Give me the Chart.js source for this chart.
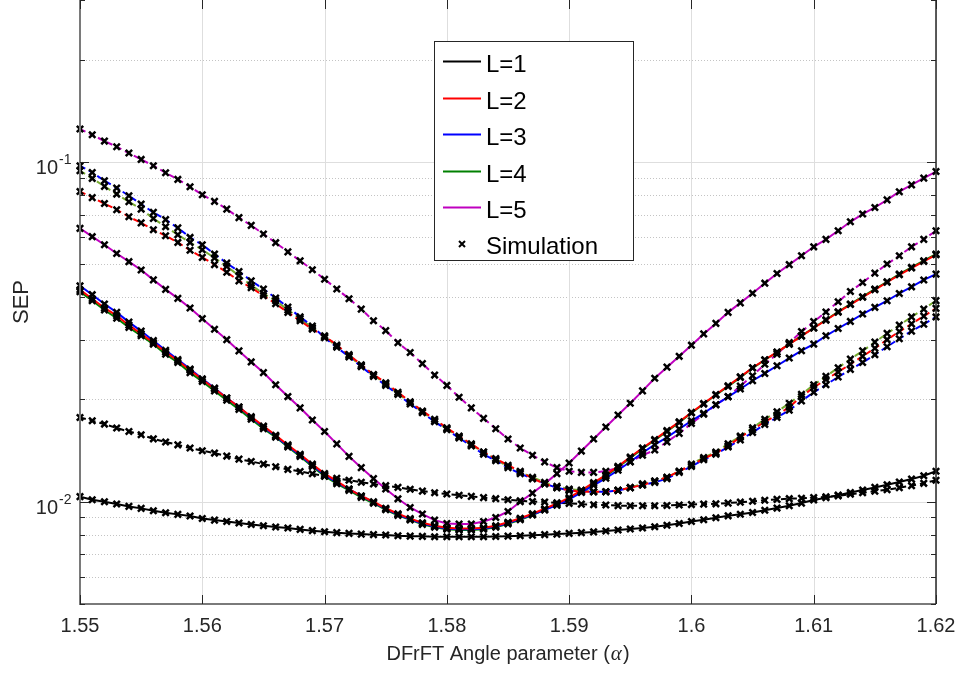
<!DOCTYPE html>
<html>
<head>
<meta charset="utf-8">
<script src="https://cdn.jsdelivr.net/npm/chart.js@4.4.0/dist/chart.umd.min.js"></script>
<style>
  html, body { margin: 0; padding: 0; background: #fff; }
  #wrap { width: 960px; height: 675px; position: relative; }
</style>
</head>
<body>
<div id="wrap"><canvas id="sepChart"></canvas></div>
<script>
// x axis: DFrFT angle parameter
const alpha = [
  1.550, 1.551, 1.552, 1.553, 1.554, 1.555, 1.556, 1.557, 1.558, 1.559,
  1.560, 1.561, 1.562, 1.563, 1.564, 1.565, 1.566, 1.567, 1.568, 1.569,
  1.570, 1.571, 1.572, 1.573, 1.574, 1.575, 1.576, 1.577, 1.578, 1.579,
  1.580, 1.581, 1.582, 1.583, 1.584, 1.585, 1.586, 1.587, 1.588, 1.589,
  1.590, 1.591, 1.592, 1.593, 1.594, 1.595, 1.596, 1.597, 1.598, 1.599,
  1.600, 1.601, 1.602, 1.603, 1.604, 1.605, 1.606, 1.607, 1.608, 1.609,
  1.610, 1.611, 1.612, 1.613, 1.614, 1.615, 1.616, 1.617, 1.618, 1.619,
  1.620
];

// solid curves
const solidL1 = [
  0.01035, 0.01014, 0.01000, 0.00985, 0.00969, 0.00956, 0.00941, 0.00928, 0.00918, 0.00908,
  0.00893, 0.00883, 0.00875, 0.00866, 0.00857, 0.00850, 0.00843, 0.00837, 0.00829, 0.00822,
  0.00816, 0.00811, 0.00807, 0.00803, 0.00800, 0.00798, 0.00794, 0.00792, 0.00791, 0.00789,
  0.00789, 0.00789, 0.00789, 0.00789, 0.00790, 0.00792, 0.00794, 0.00797, 0.00800, 0.00803,
  0.00807, 0.00811, 0.00815, 0.00820, 0.00826, 0.00831, 0.00837, 0.00844, 0.00853, 0.00863,
  0.00875, 0.00885, 0.00897, 0.00909, 0.00919, 0.00930, 0.00944, 0.00958, 0.00973, 0.00991,
  0.01012, 0.01028, 0.01046, 0.01065, 0.01083, 0.01102, 0.01122, 0.01143, 0.01166, 0.01193,
  0.01230
];
const solidL2 = [
  0.0421, 0.0396, 0.0372, 0.0353, 0.0331, 0.0312, 0.0294, 0.0276, 0.0260, 0.0244,
  0.0229, 0.0215, 0.0202, 0.0190, 0.0178, 0.0167, 0.0157, 0.0147, 0.0138, 0.0129,
  0.0121, 0.0115, 0.0109, 0.0104, 0.0100, 0.00957, 0.00922, 0.00892, 0.00867, 0.00850,
  0.00838, 0.00834, 0.00834, 0.00838, 0.00850, 0.00870, 0.00894, 0.00922, 0.00954, 0.00988,
  0.01028, 0.01081, 0.01138, 0.01199, 0.01271, 0.01354, 0.01440, 0.01525, 0.01619, 0.01720,
  0.01832, 0.01947, 0.02069, 0.02196, 0.02331, 0.02480, 0.02619, 0.02759, 0.02912, 0.03074,
  0.03247, 0.03423, 0.03613, 0.03807, 0.04000, 0.04207, 0.04428, 0.04657, 0.04876, 0.05100,
  0.05335
];
const solidL3 = [
  0.0432, 0.0407, 0.0382, 0.0361, 0.0338, 0.0318, 0.0298, 0.0279, 0.0262, 0.0246,
  0.0230, 0.0216, 0.0202, 0.0190, 0.0177, 0.0166, 0.0156, 0.0146, 0.0137, 0.0128,
  0.0120, 0.0114, 0.0109, 0.0104, 0.00995, 0.00953, 0.00917, 0.00888, 0.00863, 0.00846,
  0.00834, 0.00830, 0.00830, 0.00834, 0.00846, 0.00865, 0.00890, 0.00917, 0.00947, 0.00977,
  0.01017, 0.01065, 0.01118, 0.01173, 0.01238, 0.01311, 0.01394, 0.01472, 0.01547, 0.01637,
  0.01731, 0.01820, 0.01930, 0.02037, 0.02147, 0.02271, 0.02386, 0.02514, 0.02649, 0.02784,
  0.02912, 0.03080, 0.03236, 0.03395, 0.03570, 0.03736, 0.03906, 0.04104, 0.04293, 0.04497,
  0.04680
];
const solidL4 = [
  0.0415, 0.0391, 0.0367, 0.0347, 0.0326, 0.0308, 0.0291, 0.0272, 0.0257, 0.0240,
  0.0226, 0.0212, 0.0199, 0.0187, 0.0175, 0.0164, 0.0155, 0.0145, 0.0136, 0.0127,
  0.0119, 0.0113, 0.0108, 0.0103, 0.00990, 0.00947, 0.00912, 0.00884, 0.00858, 0.00841,
  0.00830, 0.00826, 0.00826, 0.00830, 0.00841, 0.00861, 0.00885, 0.00914, 0.00946, 0.00981,
  0.01022, 0.01075, 0.01131, 0.01190, 0.01264, 0.01345, 0.01433, 0.01517, 0.01611, 0.01712,
  0.01825, 0.01939, 0.02061, 0.02185, 0.02323, 0.02475, 0.02614, 0.02755, 0.02912, 0.03080,
  0.0325, 0.03434, 0.03626, 0.03820, 0.04014, 0.04228, 0.04442, 0.04680, 0.04896, 0.05124,
  0.05360
];
const solidL5 = [
  0.0638, 0.0603, 0.0571, 0.0538, 0.0509, 0.0481, 0.0450, 0.0422, 0.0397, 0.0372,
  0.0346, 0.0322, 0.0300, 0.0278, 0.0258, 0.0240, 0.0221, 0.0204, 0.0189, 0.0174,
  0.0161, 0.0148, 0.0136, 0.0126, 0.0117, 0.0109, 0.0102, 0.00962, 0.00920, 0.00883,
  0.00863, 0.00860, 0.00860, 0.00875, 0.00899, 0.00936, 0.0100, 0.0106, 0.0113, 0.0121,
  0.0130, 0.0141, 0.0153, 0.0166, 0.0180, 0.0195, 0.0212, 0.0231, 0.0249, 0.0268,
  0.0289, 0.0312, 0.0335, 0.0361, 0.0385, 0.0411, 0.0440, 0.0470, 0.0499, 0.0530,
  0.0563, 0.0592, 0.0628, 0.0667, 0.0703, 0.0735, 0.0774, 0.0818, 0.0857, 0.0897,
  0.0938
];

// dashed curves
const dashedL1 = [
  0.01770, 0.01731, 0.01693, 0.01648, 0.01610, 0.01575, 0.01532, 0.01499, 0.01471, 0.01439,
  0.01413, 0.01391, 0.01363, 0.01335, 0.01314, 0.01291, 0.01268, 0.01245, 0.01228, 0.01209,
  0.01190, 0.01173, 0.01157, 0.01141, 0.01128, 0.01115, 0.01102, 0.01088, 0.01075, 0.01063,
  0.01054, 0.01045, 0.01037, 0.01028, 0.01021, 0.01014, 0.01007, 0.01002, 0.00998, 0.00993,
  0.00989, 0.00984, 0.00980, 0.00978, 0.00974, 0.00973, 0.00973, 0.00973, 0.00975, 0.00978,
  0.00981, 0.00984, 0.00986, 0.00991, 0.00997, 0.01003, 0.01010, 0.01016, 0.01021, 0.01024,
  0.01028, 0.01034, 0.01041, 0.01052, 0.01063, 0.01074, 0.01085, 0.01100, 0.01115, 0.01133,
  0.01157
];
const dashedL2 = [
  0.0819, 0.0786, 0.0755, 0.0724, 0.0690, 0.0662, 0.0632, 0.0607, 0.0580, 0.0550,
  0.0524, 0.0499, 0.0474, 0.0447, 0.0427, 0.0404, 0.0383, 0.0361, 0.0341, 0.0322,
  0.0308, 0.0289, 0.0271, 0.0253, 0.0237, 0.0224, 0.0210, 0.0197, 0.0185, 0.0175,
  0.0165, 0.0156, 0.0148, 0.0140, 0.0134, 0.0128, 0.0123, 0.0117, 0.0113, 0.0110,
  0.0108, 0.0107, 0.0107, 0.0107, 0.0108, 0.0110, 0.0112, 0.0115, 0.0118, 0.0123,
  0.0128, 0.0134, 0.0139, 0.0146, 0.0155, 0.0163, 0.0172, 0.0180, 0.0190, 0.0204,
  0.0217, 0.0229, 0.0241, 0.0254, 0.0268, 0.0283, 0.0300, 0.0317, 0.0334, 0.0352,
  0.0371
];
const dashedL3 = [
  0.0975, 0.0932, 0.0881, 0.0839, 0.0796, 0.0752, 0.0711, 0.0677, 0.0640, 0.0600,
  0.0571, 0.0536, 0.0504, 0.0476, 0.0447, 0.0423, 0.0398, 0.0374, 0.0350, 0.0329,
  0.0304, 0.0285, 0.0267, 0.0250, 0.0234, 0.0220, 0.0207, 0.0194, 0.0183, 0.0172,
  0.0163, 0.0154, 0.0146, 0.0138, 0.0132, 0.0126, 0.0121, 0.0117, 0.0113, 0.0110,
  0.0108, 0.0107, 0.0107, 0.0107, 0.0108, 0.0110, 0.0112, 0.0114, 0.0117, 0.0122,
  0.0127, 0.0133, 0.0138, 0.0145, 0.0152, 0.0160, 0.0169, 0.0177, 0.0186, 0.0198,
  0.0210, 0.0221, 0.0233, 0.0245, 0.0257, 0.0271, 0.0286, 0.0302, 0.0318, 0.0333,
  0.0350
];
const dashedL4 = [
  0.0943, 0.0895, 0.0848, 0.0805, 0.0764, 0.0727, 0.0682, 0.0645, 0.0611, 0.0580,
  0.0552, 0.0522, 0.0493, 0.0463, 0.0434, 0.0410, 0.0391, 0.0367, 0.0346, 0.0325,
  0.0306, 0.0287, 0.0269, 0.0251, 0.0236, 0.0222, 0.0208, 0.0196, 0.0184, 0.0173,
  0.0164, 0.0155, 0.0147, 0.0140, 0.0133, 0.0127, 0.0122, 0.0118, 0.0114, 0.0111,
  0.0109, 0.0108, 0.0107, 0.0107, 0.0108, 0.0110, 0.0113, 0.0115, 0.0118, 0.0123,
  0.0129, 0.0135, 0.0140, 0.0148, 0.0156, 0.0165, 0.0175, 0.0184, 0.0195, 0.0207,
  0.0221, 0.0234, 0.0248, 0.0263, 0.0278, 0.0295, 0.0313, 0.0331, 0.0350, 0.0369,
  0.0391
];
const dashedL5 = [
  0.1251, 0.1203, 0.1153, 0.1109, 0.1063, 0.1018, 0.0975, 0.0930, 0.0889, 0.0846,
  0.0801, 0.0766, 0.0727, 0.0686, 0.0651, 0.0614, 0.0579, 0.0544, 0.0512, 0.0482,
  0.0452, 0.0423, 0.0396, 0.0369, 0.0341, 0.0319, 0.0294, 0.0275, 0.0255, 0.0236,
  0.0220, 0.0203, 0.0189, 0.0176, 0.0164, 0.0153, 0.0144, 0.0137, 0.0131, 0.0126,
  0.0123, 0.0122, 0.0122, 0.0123, 0.0126, 0.0131, 0.0137, 0.0142, 0.0150, 0.0159,
  0.0170, 0.0181, 0.0193, 0.0204, 0.0219, 0.0235, 0.0254, 0.0272, 0.0294, 0.0317,
  0.0339, 0.0362, 0.0388, 0.0416, 0.0442, 0.0471, 0.0501, 0.0530, 0.0563, 0.0592,
  0.0628
];

const solidSeries = [solidL1, solidL2, solidL3, solidL4, solidL5];
const dashedSeries = [dashedL1, dashedL2, dashedL3, dashedL4, dashedL5];
const solidColors = ['#000000', '#ff0000', '#0000ff', '#008000', '#bf00bf'];
const dashedColors = ['#000000', '#ff0000', '#0000ff', '#77ac30', '#bf00bf'];

const legendLabels = ['L=1', 'L=2', 'L=3', 'L=4', 'L=5'];
const simLabel = 'Simulation';

// axis ticks
const xTicks = [1.55, 1.56, 1.57, 1.58, 1.59, 1.6, 1.61, 1.62];
const xTickLabels = ['1.55', '1.56', '1.57', '1.58', '1.59', '1.6', '1.61', '1.62'];
const yMajorTicks = [0.01, 0.1];
const yTickExp = ['-2', '-1'];
const yMinorTicks = [0.005, 0.006, 0.007, 0.008, 0.009, 0.02, 0.03, 0.04, 0.05,
                     0.06, 0.07, 0.08, 0.09, 0.2, 0.3];

function toPoints(ys) {
  return alpha.map((a, i) => ({ x: a, y: ys[i] }));
}

const datasets = [];
solidSeries.forEach((s, k) => {
  datasets.push({
    data: toPoints(s), borderColor: solidColors[k], borderWidth: 2,
    pointRadius: 0, tension: 0, order: 2
  });
});
dashedSeries.forEach((s, k) => {
  datasets.push({
    data: toPoints(s), borderColor: dashedColors[k], borderWidth: 2,
    borderDash: [6, 4], pointRadius: 0, tension: 0, order: 2
  });
});
// simulation markers on top
solidSeries.concat(dashedSeries).forEach(s => {
  datasets.push({
    data: toPoints(s), showLine: false, pointStyle: 'crossRot',
    pointRadius: 4.5, pointBorderWidth: 2.5, pointBorderColor: '#000',
    pointBackgroundColor: '#000', clip: false, order: 1
  });
});

const FONT = '"Liberation Sans", Arial, Helvetica, sans-serif';
const AX = '#262626';

function hline(ctx, x1, x2, y) { ctx.beginPath(); ctx.moveTo(x1, y); ctx.lineTo(x2, y); ctx.stroke(); }
function vline(ctx, x, y1, y2) { ctx.beginPath(); ctx.moveTo(x, y1); ctx.lineTo(x, y2); ctx.stroke(); }

const matlabAxes = {
  id: 'matlabAxes',
  beforeDatasetsDraw(chart) {
    const { ctx, chartArea: a, scales: { x, y } } = chart;
    ctx.save();
    // minor grid (dotted)
    ctx.strokeStyle = '#c4c4c4';
    ctx.lineWidth = 1;
    ctx.setLineDash([1, 2]);
    yMinorTicks.forEach(v => {
      const py = Math.round(y.getPixelForValue(v)) + 0.5;
      if (py > a.top + 1 && py < a.bottom - 1) hline(ctx, a.left, a.right, py);
    });
    ctx.setLineDash([]);
    // major grid
    ctx.strokeStyle = '#dedede';
    yMajorTicks.forEach(v => {
      const py = Math.round(y.getPixelForValue(v)) + 0.5;
      hline(ctx, a.left, a.right, py);
    });
    xTicks.forEach(v => {
      const px = Math.round(x.getPixelForValue(v)) + 0.5;
      vline(ctx, px, a.top, a.bottom);
    });
    ctx.restore();
  },
  afterDatasetsDraw(chart) {
    const { ctx, chartArea: a, scales: { x, y } } = chart;
    ctx.save();
    // box (top edge sits just outside the canvas)
    ctx.strokeStyle = '#7a7a7a';
    ctx.lineWidth = 2;
    vline(ctx, a.left, a.top, a.bottom + 1);
    hline(ctx, a.left - 1, a.right, a.bottom);
    ctx.strokeStyle = AX;
    ctx.lineWidth = 1.5;
    vline(ctx, a.right, a.top, a.bottom);

    // ticks (inside)
    ctx.lineWidth = 1;
    ctx.strokeStyle = AX;
    xTicks.forEach(v => {
      const px = Math.round(x.getPixelForValue(v)) + 0.5;
      vline(ctx, px, a.bottom, a.bottom - 9);
      vline(ctx, px, a.top, a.top + 9);
    });
    yMajorTicks.forEach(v => {
      const py = Math.round(y.getPixelForValue(v)) + 0.5;
      hline(ctx, a.left, a.left + 9, py);
      hline(ctx, a.right, a.right - 9, py);
    });
    yMinorTicks.forEach(v => {
      const py = Math.round(y.getPixelForValue(v)) + 0.5;
      hline(ctx, a.left, a.left + 5, py);
      hline(ctx, a.right, a.right - 5, py);
    });

    // tick labels
    ctx.fillStyle = AX;
    ctx.font = '20px ' + FONT;
    ctx.textAlign = 'center';
    ctx.textBaseline = 'alphabetic';
    xTicks.forEach((v, i) => {
      ctx.fillText(xTickLabels[i], x.getPixelForValue(v), a.bottom + 28);
    });
    yMajorTicks.forEach((v, i) => {
      const py = y.getPixelForValue(v);
      ctx.font = '20px ' + FONT;
      ctx.textAlign = 'right';
      ctx.fillText('10', 58, py + 12);
      ctx.font = '14px ' + FONT;
      ctx.textAlign = 'left';
      ctx.fillText(yTickExp[i], 59, py + 2);
    });

    // axis titles
    ctx.font = '20px ' + FONT;
    const t1 = 'DFrFT Angle parameter (';
    const t2 = '\u03b1';
    const t3 = ')';
    const w1 = ctx.measureText(t1).width;
    const w3 = ctx.measureText(t3).width;
    ctx.font = 'italic 21px "Liberation Serif", "DejaVu Serif", serif';
    const w2 = ctx.measureText(t2).width + 2;
    const cx = (a.left + a.right) / 2;
    const sx = cx - (w1 + w2 + w3) / 2;
    ctx.textAlign = 'left';
    ctx.font = '20px ' + FONT;
    ctx.fillText(t1, sx, 660);
    ctx.font = 'italic 21px "Liberation Serif", "DejaVu Serif", serif';
    ctx.fillText(t2, sx + w1 + 1, 660);
    ctx.font = '20px ' + FONT;
    ctx.fillText(t3, sx + w1 + w2, 660);

    ctx.save();
    ctx.translate(28, (a.top + a.bottom) / 2);
    ctx.rotate(-Math.PI / 2);
    ctx.textAlign = 'center';
    ctx.font = '22px ' + FONT;
    ctx.fillText('SEP', 0, 0);
    ctx.restore();
    ctx.restore();
  },
  afterDraw(chart) {
    const ctx = chart.ctx;
    ctx.save();
    const bx = 434.5, by = 41.5, bw = 199, bh = 219;
    ctx.fillStyle = '#fff';
    ctx.fillRect(bx, by, bw, bh);
    ctx.strokeStyle = AX;
    ctx.lineWidth = 1;
    ctx.strokeRect(bx, by, bw, bh);
    ctx.font = '24px ' + FONT;
    ctx.textAlign = 'left';
    ctx.textBaseline = 'alphabetic';
    ctx.fillStyle = '#000';
    const rowY = k => 61 + k * 36.6;
    legendLabels.forEach((lab, k) => {
      const ly = Math.round(rowY(k)) + 0.5;
      ctx.strokeStyle = solidColors[k];
      ctx.lineWidth = 2;
      hline(ctx, 443, 481, ly);
      ctx.fillText(lab, 486, ly + 10);
    });
    const sy = rowY(5);
    ctx.strokeStyle = '#000';
    ctx.lineWidth = 2;
    ctx.beginPath();
    ctx.moveTo(459, sy - 3); ctx.lineTo(465, sy + 3);
    ctx.moveTo(459, sy + 3); ctx.lineTo(465, sy - 3);
    ctx.stroke();
    ctx.fillText(simLabel, 486, sy + 10);
    ctx.restore();
  }
};

new Chart(document.getElementById('sepChart'), {
  type: 'line',
  data: { datasets: datasets },
  options: {
    animation: false,
    responsive: true,
    maintainAspectRatio: false,
    devicePixelRatio: 1,
    layout: { autoPadding: false, padding: { left: 80, right: 24, top: 0, bottom: 71 } },
    scales: {
      x: { type: 'linear', min: 1.55, max: 1.62, display: false },
      y: { type: 'logarithmic', min: 0.005, max: 0.3, display: false }
    },
    plugins: {
      legend: { display: false },
      tooltip: { enabled: false }
    }
  },
  plugins: [matlabAxes]
});
</script>
</body>
</html>
